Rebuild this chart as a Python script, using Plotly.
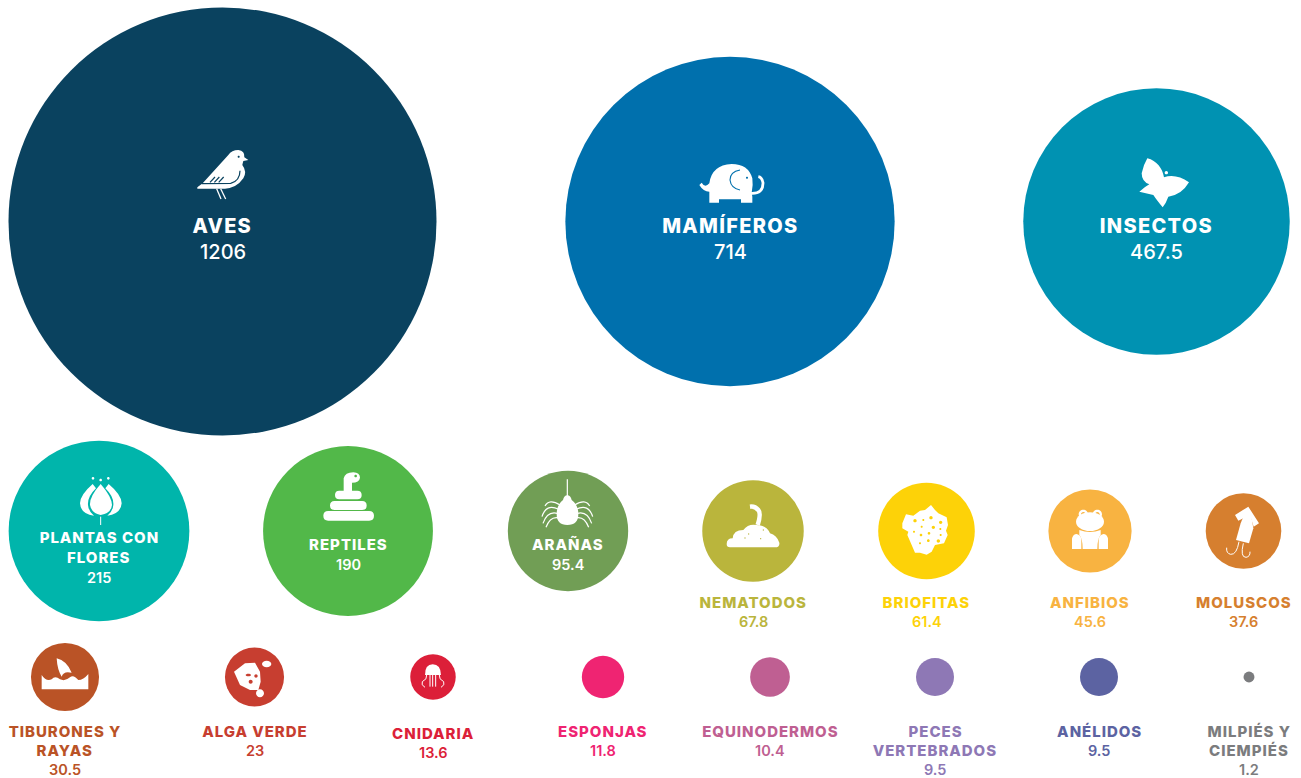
import re
import plotly.graph_objects as go

# ---------- data ----------
categories = ["AVES", "MAMÍFEROS", "INSECTOS", "PLANTAS CON FLORES", "REPTILES", "ARAÑAS",
              "NEMATODOS", "BRIOFITAS", "ANFIBIOS", "MOLUSCOS", "TIBURONES Y RAYAS", "ALGA VERDE",
              "CNIDARIA", "ESPONJAS", "EQUINODERMOS", "PECES VERTEBRADOS", "ANÉLIDOS", "MILPIÉS Y CIEMPIÉS"]
values = [1206, 714, 467.5, 215, 190, 95.4, 67.8, 61.4, 45.6, 37.6, 30.5, 23, 13.6, 11.8, 10.4, 9.5, 9.5, 1.2]
value_labels = ["1206", "714", "467.5", "215", "190", "95.4", "67.8", "61.4", "45.6", "37.6", "30.5", "23",
                "13.6", "11.8", "10.4", "9.5", "9.5", "1.2"]
name_lines = [["AVES"], ["MAMÍFEROS"], ["INSECTOS"], ["PLANTAS CON", "FLORES"], ["REPTILES"], ["ARAÑAS"],
              ["NEMATODOS"], ["BRIOFITAS"], ["ANFIBIOS"], ["MOLUSCOS"], ["TIBURONES Y", "RAYAS"], ["ALGA VERDE"],
              ["CNIDARIA"], ["ESPONJAS"], ["EQUINODERMOS"], ["PECES", "VERTEBRADOS"], ["ANÉLIDOS"],
              ["MILPIÉS Y", "CIEMPIÉS"]]

# ---------- layout / style ----------
W, H = 1301, 778
center_x = [222.5, 730, 1156.5, 99, 348, 568, 753, 926.5, 1090, 1243.5, 65, 254.5, 433, 603, 770, 935, 1099, 1249]
center_y = [221.5] * 3 + [531] * 7 + [677] * 8
colors = ["#0A425F", "#0070AD", "#0092B2", "#00B5AB", "#52B849", "#719E55", "#BAB53C", "#FDD208", "#F8B341",
          "#D67F2F", "#BA5326", "#C73E30", "#DC1F39", "#EF2472", "#BF5F92", "#8E78B5", "#5C63A2", "#7B7C7E"]
first_line_y = [225.5, 225.5, 225.5, 537.5, 544.5, 544.5, 602, 602, 602, 602, 731, 731, 733, 731, 731, 731, 731, 731]
line_step = [0, 0, 0, 20, 0, 0, 0, 0, 0, 0, 19, 0, 0, 0, 0, 19, 0, 19]
value_gap = [26, 26, 26, 20, 20, 20, 19, 19, 19, 19, 19, 19, 19, 19, 19, 19, 19, 19]
name_size = [20, 20, 20, 15, 15, 15, 15, 15, 15, 15, 15, 15, 15, 15, 15, 15, 15, 15]
value_size = [20, 20, 20, 14.5, 14.5, 14.5, 14.5, 14.5, 14.5, 14.5, 14.5, 14.5, 14.5, 14.5, 14.5, 14.5, 14.5, 14.5]
value_weight = [500] * 3 + [600] * 15
on_circle = [True] * 6 + [False] * 12
FONT = "Inter"
MAX_DIAMETER = 428
size_scale = [1.0] * 17 + [0.81]

fig = go.Figure()
fig.add_trace(go.Scatter(
    x=center_x, y=center_y, mode="markers", text=categories, hoverinfo="text", cliponaxis=False,
    marker=dict(size=[v * s * s for v, s in zip(values, size_scale)], sizemode="area",
                sizeref=2 * max(values) / MAX_DIAMETER ** 2, color=colors, line=dict(width=0), opacity=1),
))

# ---------- text ----------
def label(x, y, text, size, color, weight):
    fig.add_annotation(x=x, y=y, text=text, showarrow=False, xanchor="center", yanchor="middle",
                       font=dict(family=FONT, size=size, color=color, weight=weight))

for i, lines in enumerate(name_lines):
    col = "#FFFFFF" if on_circle[i] else colors[i]
    y = first_line_y[i]
    for j, ln in enumerate(lines):
        label(center_x[i], y + j * line_step[i], ln, name_size[i], col, 800)
    label(center_x[i], y + (len(lines) - 1) * line_step[i] + value_gap[i], value_labels[i], value_size[i], col,
          value_weight[i])

# ---------- decorative icons (drawn in zoomed-crop coordinates, 3 units = 1 px) ----------
def tf(path, ox, oy):
    nums = iter(re.findall(r"[A-Za-z]|-?\d+\.?\d*", path))
    out = []
    for t in nums:
        if t.isalpha():
            out.append(t)
        else:
            out.append(f"{ox + float(t) / 3:.2f},{oy + float(next(nums)) / 3:.2f}")
    return " ".join(out)

def circ(cx, cy, rx, ry=None):
    ry = rx if ry is None else ry
    k = 0.5523
    return (f"M {cx-rx} {cy} C {cx-rx} {cy-k*ry} {cx-k*rx} {cy-ry} {cx} {cy-ry} "
            f"C {cx+k*rx} {cy-ry} {cx+rx} {cy-k*ry} {cx+rx} {cy} "
            f"C {cx+rx} {cy+k*ry} {cx+k*rx} {cy+ry} {cx} {cy+ry} "
            f"C {cx-k*rx} {cy+ry} {cx-rx} {cy+k*ry} {cx-rx} {cy} Z ")

def rrect(x0, y0, x1, y1):
    r = (y1 - y0) / 2
    return (f"M {x0+r} {y0} L {x1-r} {y0} Q {x1} {y0} {x1} {y0+r} Q {x1} {y1} {x1-r} {y1} "
            f"L {x0+r} {y1} Q {x0} {y1} {x0} {y0+r} Q {x0} {y0} {x0+r} {y0} Z ")

def fill(path, ox, oy, color="#FFFFFF"):
    fig.add_shape(type="path", path=tf(path, ox, oy), xref="x", yref="y", fillcolor=color, line=dict(width=0))

def stroke(path, ox, oy, width, color="#FFFFFF"):
    fig.add_shape(type="path", path=tf(path, ox, oy), xref="x", yref="y", fillcolor="rgba(0,0,0,0)",
                  line=dict(width=width, color=color))

# bird
o = (160, 130); c = colors[0]
fill("M 112 172 L 128 160 L 205 75 Q 215 60 235 60 Q 255 62 253 82 L 265 90 L 250 93 Q 248 100 247 105 "
     "Q 262 125 250 145 Q 230 174 195 176 L 112 176 Z " + circ(236, 80, 3), *o)
stroke("M 125 161 L 212 160 Q 240 152 240 122", *o, 1.2, c)
for a, b in [("150 157", "165 141"), ("163 157", "178 141"), ("176 157", "191 141")]:
    stroke(f"M {a} L {b}", *o, 1.2, c)
stroke("M 170 176 L 183 207", *o, 1.3)
stroke("M 182 176 L 197 207", *o, 1.3)

# elephant
o = (650, 140); c = colors[1]
fill("M 178 130 Q 185 75 245 72 Q 295 72 307 115 Q 310 135 305 158 L 307 170 L 307 188 L 273 188 L 273 178 "
     "L 207 178 L 207 188 L 178 188 L 178 155 Q 160 155 148 135 L 155 128 Q 165 145 178 130 Z " + circ(291, 113, 3), *o)
stroke("M 303 160 Q 340 162 339 128 Q 336 112 325 110", *o, 2.8)
stroke("M 270 90 Q 240 95 240 120 Q 243 145 270 150", *o, 1.1, c)

# butterfly
o = (1090, 140)
fill("M 172 55 C 200 62 218 85 222 112 Q 258 100 297 127 Q 275 165 235 170 Q 228 190 218 202 Q 200 180 190 165 "
     "L 148 155 Q 165 140 178 133 Q 155 125 155 100 Q 160 75 172 55 Z " + circ(229, 98, 5), *o)

# lotus
o = (30, 460); c = colors[3]
fill("M 212 72 Q 178 110 180 135 Q 185 160 212 165 Q 243 160 246 135 Q 245 110 212 72 Z", *o)
fill("M 188 72 L 198 85 Q 172 110 174 135 Q 176 155 192 167 Q 152 162 150 130 Q 150 105 188 72 Z", *o)
fill("M 236 72 L 226 85 Q 252 110 250 135 Q 248 155 232 167 Q 272 162 275 130 Q 275 105 236 72 Z", *o)
fill(circ(189, 55, 4) + circ(212, 60, 4) + circ(235, 55, 4), *o)
stroke("M 212 170 L 212 195", *o, 1)

# snake
fill(rrect(880, 153, 1032, 182) + rrect(900, 123, 1010, 150) + rrect(915, 92, 995, 118), *o)
fill("M 941 95 L 941 55 Q 945 37 970 37 Q 990 38 990 53 Q 988 68 966 68 L 966 95 Z " + circ(977, 48, 4), *o)

# spider
o = (510, 470)
fill("M 172 76 Q 182 76 185 90 Q 205 105 205 132 Q 205 165 172 165 Q 140 165 140 132 Q 140 105 159 90 "
     "Q 162 76 172 76 Z", *o)
stroke("M 172 28 L 172 80", *o, 1.2)
for p in [((150, 105), (118, 85), (105, 108)), ((146, 118), (108, 100), (96, 140)),
          ((142, 130), (112, 122), (99, 160)), ((150, 145), (122, 135), (108, 172))]:
    stroke(f"M {p[0][0]} {p[0][1]} Q {p[1][0]} {p[1][1]} {p[2][0]} {p[2][1]}", *o, 1.2)
    stroke(f"M {344-p[0][0]} {p[0][1]} Q {344-p[1][0]} {p[1][1]} {344-p[2][0]} {p[2][1]}", *o, 1.2)

# nematode
c = colors[6]
fill("M 650 222 Q 650 205 668 205 Q 670 180 700 180 Q 715 160 740 165 Q 770 165 780 190 Q 800 195 808 218 "
     "Q 810 232 795 232 L 660 232 Q 650 232 650 222 Z " + circ(716, 192, 2) + circ(752, 206, 2) + circ(705, 204, 2)
     + circ(760, 180, 2), *o)
stroke("M 743 165 Q 754 130 745 120 Q 735 108 720 110", *o, 4.5)

# moss
o = (870, 480)
holes = "".join(circ(x, y, r) for x, y, r in [(135, 122, 5), (160, 120, 3), (183, 113, 5), (212, 127, 5),
                                              (155, 140, 3), (190, 142, 5), (132, 155, 3), (153, 165, 4),
                                              (177, 160, 4), (211, 147, 3), (212, 165, 3), (175, 182, 4),
                                              (205, 183, 5), (150, 190, 3)])
fill("M 97 130 L 108 103 L 130 107 L 150 92 L 165 90 L 183 75 L 195 90 L 205 100 L 230 112 L 234 135 L 228 152 "
     "L 233 165 L 222 190 L 195 195 L 185 215 L 170 224 L 150 218 L 135 218 L 125 195 L 112 165 L 115 155 L 97 145 Z "
     + holes, *o)

# frog
c = colors[8]
fill(circ(660, 125, 42, 28), *o)
fill(circ(640, 103, 14) + circ(640, 103, 7) + circ(682, 103, 14) + circ(682, 103, 7), *o)
fill("M 628 150 Q 660 162 692 150 L 692 165 Q 682 175 682 207 L 638 207 Q 638 175 628 165 Z", *o)
fill("M 606 207 L 606 175 Q 610 162 620 162 Q 632 165 634 178 L 634 207 Z", *o)
fill("M 714 207 L 714 175 Q 710 162 700 162 Q 688 165 686 178 L 686 207 Z", *o)

# squid
fill("M 1095 105 L 1135 80 L 1167 130 L 1151 140 L 1140 105 L 1105 122 Z", *o)
fill("M 1138 90 Q 1145 110 1150 145 L 1137 190 L 1098 180 L 1112 130 Q 1118 110 1138 90 Z", *o)
stroke("M 1107 185 Q 1100 225 1082 223 Q 1068 220 1070 203", *o, 1)
stroke("M 1120 190 Q 1110 232 1128 232 Q 1141 230 1140 215", *o, 1)

# shark
o = (10, 630)
fill("M 140 85 Q 170 92 185 128 Q 160 122 155 140 Q 142 120 140 85 Z", *o)
fill("M 95 178 L 95 135 Q 108 155 125 148 Q 135 135 150 148 Q 165 155 180 142 Q 190 132 205 150 Q 220 150 235 132 "
     "L 235 178 Z", *o)

# algae
holes = circ(715, 135, 8, 4) + circ(722, 155, 6) + circ(738, 138, 5)
fill("M 672 125 L 705 100 L 735 98 L 750 125 L 752 155 L 745 180 L 720 180 L 690 165 Z " + holes, *o)
fill(circ(770, 102, 14, 10) + circ(750, 190, 12), *o)

# jellyfish
fill("M 1245 135 Q 1245 103 1268 103 Q 1292 103 1293 135 Z", *o)
for x in (1260, 1268, 1277):
    stroke(f"M {x} 135 L {x} 170", *o, 1)
stroke("M 1250 135 Q 1252 148 1237 155 Q 1232 165 1245 172", *o, 1)
stroke("M 1288 135 Q 1286 148 1301 155 Q 1306 165 1293 172", *o, 1)

fig.update_xaxes(range=[0, W], visible=False, fixedrange=True)
fig.update_yaxes(range=[H, 0], visible=False, fixedrange=True)
fig.update_layout(width=W, height=H, margin=dict(l=0, r=0, t=0, b=0), paper_bgcolor="#FFFFFF",
                  plot_bgcolor="#FFFFFF", showlegend=False, dragmode=False)
fig.write_html("out.html", config={"displayModeBar": False},
               post_script="document.body.style.margin='0';document.body.style.overflow='hidden';"
                           "document.querySelectorAll('.annotation-text').forEach(function(t){"
                           "if(!/[0-9]/.test(t.textContent)){t.style.letterSpacing='0.065em';}});")
